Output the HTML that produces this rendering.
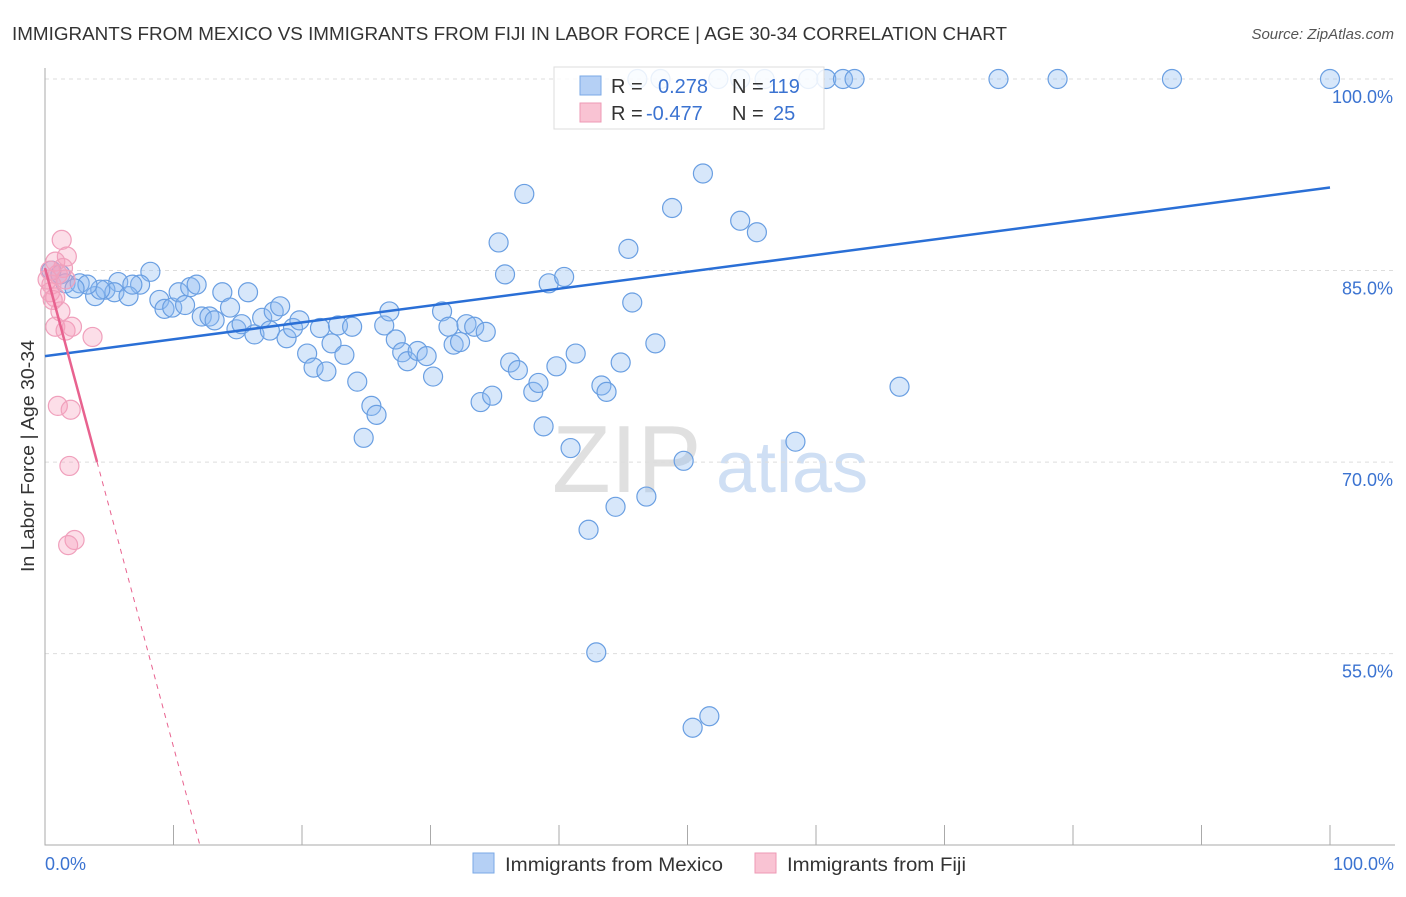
<!DOCTYPE html>
<html><head><meta charset="utf-8"><style>
body{margin:0;background:#fff;font-family:"Liberation Sans",sans-serif}
svg text{font-family:"Liberation Sans",sans-serif}
</style></head><body>
<svg width="1406" height="892" viewBox="0 0 1406 892">
<text x="12" y="40" font-size="18" fill="#333" textLength="995" lengthAdjust="spacingAndGlyphs">IMMIGRANTS FROM MEXICO VS IMMIGRANTS FROM FIJI IN LABOR FORCE | AGE 30-34 CORRELATION CHART</text>
<text x="1394" y="39" font-size="15" fill="#555" font-style="italic" text-anchor="end">Source: ZipAtlas.com</text>
<g>
<text x="552" y="492" font-size="96" fill="#e0e0e0" font-family="Liberation Serif,serif">ZIP</text>
<text x="716" y="492" font-size="72" fill="#cfdff4">atlas</text>
</g>
<g id="grid"></g>
<g id="axes"></g>
<g id="pts"></g>
<g id="trend"></g>
<g>
<rect x="554" y="67" width="270" height="62" fill="#fff" fill-opacity="0.85" stroke="#ddd"/>
<rect x="580" y="76" width="21" height="19" fill="#b5d0f5" stroke="#7aa8e6"/>
<rect x="580" y="103" width="21" height="19" fill="#f9c3d3" stroke="#ee9ab5"/>
<text x="611" y="93" font-size="20" fill="#333">R = </text><text x="658" y="93" font-size="20" fill="#3b73d1">0.278</text>
<text x="732" y="93" font-size="20" fill="#333">N = </text><text x="768" y="93" font-size="20" fill="#3b73d1">119</text>
<text x="611" y="120" font-size="20" fill="#333">R = </text><text x="646" y="120" font-size="20" fill="#3b73d1">-0.477</text>
<text x="732" y="120" font-size="20" fill="#333">N = </text><text x="773" y="120" font-size="20" fill="#3b73d1">25</text>
</g>
<text x="45" y="870" font-size="18" fill="#3b73d1">0.0%</text>
<text x="1394" y="870" font-size="18" fill="#3b73d1" text-anchor="end">100.0%</text>
<text transform="translate(34,456) rotate(-90)" font-size="18" fill="#333" text-anchor="middle" textLength="232" lengthAdjust="spacingAndGlyphs">In Labor Force | Age 30-34</text>
<g>
<rect x="473" y="853" width="21" height="20" fill="#b5d0f5" stroke="#7aa8e6"/>
<text x="505" y="871" font-size="19" fill="#333" textLength="218" lengthAdjust="spacingAndGlyphs">Immigrants from Mexico</text>
<rect x="755" y="853" width="21" height="20" fill="#f9c3d3" stroke="#ee9ab5"/>
<text x="787" y="871" font-size="19" fill="#333" textLength="179" lengthAdjust="spacingAndGlyphs">Immigrants from Fiji</text>
</g>
</svg>
<script>
const yTicks=[100,85,70,55];
const yTickLabels=["100.0%","85.0%","70.0%","55.0%"];
const xTicks=[10,20,30,40,50,60,70,80,90,100];
const mexX=[46.1,47.9,52.4,54.1,56.0,59.4,60.8,62.1,63.0,74.2,78.8,87.7,100,37.3,51.2,48.8,54.1,55.4,35.3,45.4,35.8,39.2,40.4,45.7,8.2,5.7,7.4,0.5,1.2,1.6,2.7,3.9,4.7,5.4,6.5,6.8,8.9,9.3,9.9,10.4,10.9,11.3,11.8,12.2,12.8,13.2,13.8,14.4,14.9,15.3,15.8,16.3,16.9,17.5,17.8,18.3,18.8,19.3,19.8,20.4,20.9,21.4,21.9,22.3,22.8,23.3,23.9,24.3,25.4,25.8,24.8,26.4,26.8,27.3,27.8,28.2,29.0,29.7,30.2,30.9,31.4,31.8,32.3,32.8,33.4,34.3,33.9,34.8,36.2,36.8,38.0,38.4,38.8,39.8,40.9,41.3,43.3,43.7,44.8,47.5,44.4,42.3,46.8,49.7,58.4,66.5,42.9,51.7,50.4,4.3,3.3,2.3];
const mexY=[100,100,100,100,100,100,100,100,100,100,100,100,100,91.0,92.6,89.9,88.9,88.0,87.2,86.7,84.7,84.0,84.5,82.5,84.9,84.1,83.9,85.0,84.7,84.0,84.0,83.0,83.5,83.3,83.0,83.9,82.7,82.0,82.1,83.3,82.3,83.7,83.9,81.4,81.4,81.1,83.3,82.1,80.4,80.8,83.3,80.0,81.3,80.3,81.8,82.2,79.7,80.5,81.1,78.5,77.4,80.5,77.1,79.3,80.7,78.4,80.6,76.3,74.4,73.7,71.9,80.7,81.8,79.6,78.6,77.9,78.7,78.3,76.7,81.8,80.6,79.2,79.4,80.8,80.6,80.2,74.7,75.2,77.8,77.2,75.5,76.2,72.8,77.5,71.1,78.5,76.0,75.5,77.8,79.3,66.5,64.7,67.3,70.1,71.6,75.9,55.1,50.1,49.2,83.5,83.9,83.6];
const fijiX=[1.3,1.7,0.8,1.4,1.0,0.4,0.5,0.8,0.4,1.2,0.8,1.6,2.1,3.7,1.0,2.0,1.9,2.3,1.8,1.6,0.2,0.6];
const fijiY=[87.4,86.1,85.7,85.2,84.7,85.0,83.9,82.9,83.3,81.8,80.6,80.3,80.6,79.8,74.4,74.1,69.7,63.9,63.5,84.3,84.3,82.7];
const mexTrend=[78.3,91.5];
const fijiTrend=[85.2,-3.75];
const fijiSolidEnd=4.05;
const NS="http://www.w3.org/2000/svg";
const X=v=>45+v*12.85, Y=v=>79+(100-v)*12.77;
function mk(tag,attrs,parent){const e=document.createElementNS(NS,tag);for(const k in attrs)e.setAttribute(k,attrs[k]);parent.appendChild(e);return e;}
const grid=document.getElementById('grid'),axes=document.getElementById('axes'),pts=document.getElementById('pts'),tr=document.getElementById('trend');
yTicks.forEach((t,i)=>{
 const l=mk('line',{x1:45,x2:1395,y1:Y(t),y2:Y(t),stroke:'#ddd','stroke-dasharray':'4,4'},grid);
 
 
 const tx=mk('text',{x:1393,y:Y(t)+24,'font-size':18,fill:'#3b73d1','text-anchor':'end'},grid);
 tx.textContent=yTickLabels[i];
 
 
});
const ax=mk('path',{d:'M45,68V845H1395',stroke:'#aaa',fill:'none'},axes);


xTicks.forEach(t=>{
 const l=mk('line',{x1:X(t),x2:X(t),y1:825,y2:845,stroke:'#aaa'},axes);
 
 
});
mexX.forEach((x,i)=>{
 const c=mk('circle',{cx:X(x),cy:Y(mexY[i]),r:9.5,fill:'rgba(140,185,240,0.35)',stroke:'#6a9fe2','stroke-width':1.2},pts);
 
 
});
fijiX.forEach((x,i)=>{
 const c=mk('circle',{cx:X(x),cy:Y(fijiY[i]),r:9.5,fill:'rgba(245,160,190,0.35)',stroke:'#f0a0bc','stroke-width':1.2},pts);
 
 
});
const bl=mk('line',{x1:X(0),y1:Y(mexTrend[0]),x2:X(100),y2:Y(mexTrend[1]),stroke:'#2a6fd6','stroke-width':2.5},tr);


const fy=x=>fijiTrend[0]+fijiTrend[1]*x;
const pl=mk('line',{x1:X(0),y1:Y(fy(0)),x2:X(fijiSolidEnd),y2:Y(fy(fijiSolidEnd)),stroke:'#e8628f','stroke-width':2.5},tr);


const xe=fijiTrend[0]>40?(40-fijiTrend[0])/fijiTrend[1]:12;
const pd=mk('line',{x1:X(fijiSolidEnd),y1:Y(fy(fijiSolidEnd)),x2:X(xe),y2:Y(fy(xe)),stroke:'#e8628f','stroke-width':1,'stroke-dasharray':'5,5'},tr);


</script>
</body></html>
